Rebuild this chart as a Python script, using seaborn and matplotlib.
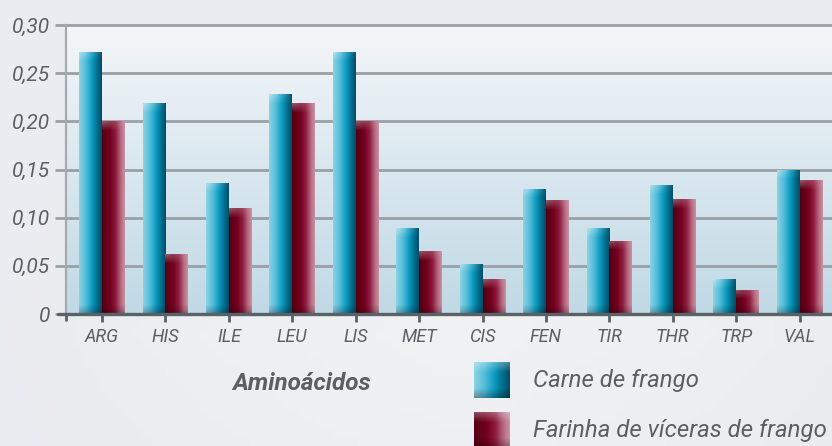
import numpy as np
import pandas as pd
import matplotlib
matplotlib.use("Agg")
import matplotlib.pyplot as plt
import seaborn as sns
from matplotlib.colors import LinearSegmentedColormap, to_rgb
from matplotlib.lines import Line2D

categories = ['ARG', 'HIS', 'ILE', 'LEU', 'LIS', 'MET', 'CIS', 'FEN', 'TIR', 'THR', 'TRP', 'VAL']
carne = [0.272, 0.219, 0.136, 0.228, 0.272, 0.089, 0.052, 0.130, 0.089, 0.134, 0.036, 0.150]
farinha = [0.200, 0.062, 0.110, 0.219, 0.200, 0.065, 0.036, 0.118, 0.076, 0.119, 0.025, 0.139]
series = ['Carne de frango', 'Farinha de víceras de frango']
yticks = [0, 0.05, 0.10, 0.15, 0.20, 0.25, 0.30]
ytick_labels = ['0', '0,05', '0,10', '0,15', '0,20', '0,25', '0,30']
xlabel = 'Aminoácidos'

df = pd.DataFrame({
    'aa': categories * 2,
    'valor': carne + farinha,
    'serie': [series[0]] * len(categories) + [series[1]] * len(categories),
})

sns.set_style("white")
FONT = ['Roboto', 'DejaVu Sans']
plt.rcParams['font.family'] = FONT
TXT = '#5b5f65'

W, H = 832, 446
fig = plt.figure(figsize=(W / 100, H / 100), dpi=100)
fig.patch.set_facecolor('#eceef2')

# figure background subtle gradient
bgax = fig.add_axes([0, 0, 1, 1], zorder=-10)
gy = np.linspace(0, 1, 50)[:, None]
gx = np.linspace(0, 1, 100)[None, :]
c1 = np.array(to_rgb('#e9ecf0'))
c2 = np.array(to_rgb('#f1f2f4'))
t = np.clip(1 - np.abs(gx - 0.55) * 1.6, 0, 1) * np.clip(1 - np.abs(gy - 0.75) * 1.5, 0, 1)
bgimg = c1[None, None, :] * (1 - t[..., None]) + c2[None, None, :] * t[..., None]
bgax.imshow(bgimg, extent=[0, 1, 0, 1], aspect='auto', origin='upper')
bgax.axis('off')

x0, x1 = 66, 832
ytop, ybot = 25, 314
ax = fig.add_axes([x0 / W, 1 - ybot / H, (x1 - x0) / W, (ybot - ytop) / H])

palette = {series[0]: '#1aa0c4', series[1]: '#850a2c'}
sns.barplot(data=df, x='aa', y='valor', hue='serie', order=categories, hue_order=series,
            palette=palette, width=0.72, dodge=True, ax=ax, legend=False,
            errorbar=None, saturation=1, zorder=3)

ax.set_xlim(-0.568, 11.51)
ax.set_ylim(0, 0.30)

# plot area gradient background
pg = np.linspace(0, 1, 200)[:, None]
top_c = np.array(to_rgb('#f4f6f9'))
bot_c = np.array(to_rgb('#c0d9e5'))
pimg = top_c * (1 - pg[..., None]) + bot_c * pg[..., None]
pimg = np.repeat(pimg, 4, axis=1)
ax.imshow(pimg, extent=[0, 1, 0, 1], transform=ax.transAxes, aspect='auto',
          origin='upper', zorder=0)
ax.set_xlim(-0.568, 11.51)
ax.set_ylim(0, 0.30)

# gradient bars
blue_cmap = LinearSegmentedColormap.from_list('b', [
    (0.0, '#8ad2e5'), (0.3, '#52bcd9'), (0.55, '#0f9ec4'), (0.8, '#02708f'), (1.0, '#034d69')])
red_cmap = LinearSegmentedColormap.from_list('r', [
    (0.0, '#560014'), (0.35, '#74001f'), (0.6, '#8e1c3e'), (0.82, '#b4667e'), (1.0, '#c8909f')])

ppu = (ybot - ytop) / 0.30
nser = len(categories)
for i, p in enumerate(ax.patches):
    cmap = blue_cmap if i < nser else red_cmap
    bx, by = p.get_x(), p.get_y()
    bw, bh = p.get_width(), p.get_height()
    if bh <= 0:
        continue
    ny = max(int(bh * ppu), 2)
    nx = 40
    xs = np.linspace(0, 1, nx)
    row = cmap(xs)[:, :3]
    img = np.repeat(row[None, :, :], ny, axis=0)
    cap = 9
    for k in range(min(cap, ny)):
        f = 0.35 * (1 - k / cap)
        diag = np.clip(1 - xs * 0.9, 0, 1)
        img[k] = img[k] * (1 - f * diag[:, None]) + f * diag[:, None]
    bs = 9
    for k in range(min(bs, ny)):
        f = 0.25 * (1 - k / bs)
        img[ny - 1 - k] = img[ny - 1 - k] * (1 - f)
    im = ax.imshow(img, extent=[bx, bx + bw, by, by + bh], aspect='auto',
                   origin='upper', zorder=4)
    im.set_clip_path(p)
    p.set_edgecolor('none')

ax.set_xlim(-0.568, 11.51)
ax.set_ylim(0, 0.30)

# grid
ax.set_yticks(yticks)
ax.set_yticklabels(ytick_labels)
ax.yaxis.grid(True, color='#99a0a6', linewidth=2.0, zorder=1)
for gl in ax.get_ygridlines():
    gl.set_clip_on(False)
ax.set_axisbelow(True)

for s in ['top', 'right', 'bottom']:
    ax.spines[s].set_visible(False)
ax.spines['left'].set_color('#a6aaae')
ax.spines['left'].set_linewidth(1.6)
ax.spines['left'].set_zorder(2)

# bottom axis line (dark, extending left)
ax.add_line(Line2D([-8 / (x1 - x0), 1], [0, 0], transform=ax.transAxes,
                   color='#5a6267', linewidth=2.4, clip_on=False, zorder=6))
ax.add_line(Line2D([0, 0], [0, -6 / (ybot - ytop)], transform=ax.transAxes,
                   color='#5a6267', linewidth=2.0, clip_on=False, zorder=6))

ax.tick_params(axis='y', length=8, width=2.0, color='#99a0a6', pad=3.5,
               labelsize=15, labelcolor=TXT, direction='out', left=True)
ax.tick_params(axis='x', length=6, width=2.0, color='#5a6267', pad=4,
               labelsize=13, labelcolor=TXT, direction='out', bottom=True)
for lab in ax.get_yticklabels() + ax.get_xticklabels():
    lab.set_fontstyle('italic')
ax.set_xlabel('')
ax.set_ylabel('')

# axis title
fig.text(302 / W, 1 - 383 / H, xlabel, ha='center', va='center', fontsize=17.5,
         fontweight='bold', fontstyle='italic', color=TXT, family=FONT)

# legend (gradient squares + labels)
leg_rows = [(series[0], blue_cmap, 380), (series[1], red_cmap, 430)]
for name, cmap, yc in leg_rows:
    sq = 36
    lax = fig.add_axes([474 / W, 1 - (yc + sq / 2) / H, sq / W, sq / H], zorder=5)
    xs = np.linspace(0, 1, 30)
    row = cmap(xs)[:, :3]
    img = np.repeat(row[None, :, :], 30, axis=0)
    for k in range(8):
        f = 0.3 * (1 - k / 8)
        img[k] = img[k] * (1 - f) + f
        img[29 - k] = img[29 - k] * (1 - 0.3 * (1 - k / 8))
    lax.imshow(img, aspect='auto')
    lax.axis('off')
    fig.text(533 / W, 1 - yc / H, name, ha='left', va='center', fontsize=17.3,
             fontstyle='italic', color=TXT, family=FONT)

fig.savefig('out.png', dpi=100, facecolor=fig.get_facecolor())
